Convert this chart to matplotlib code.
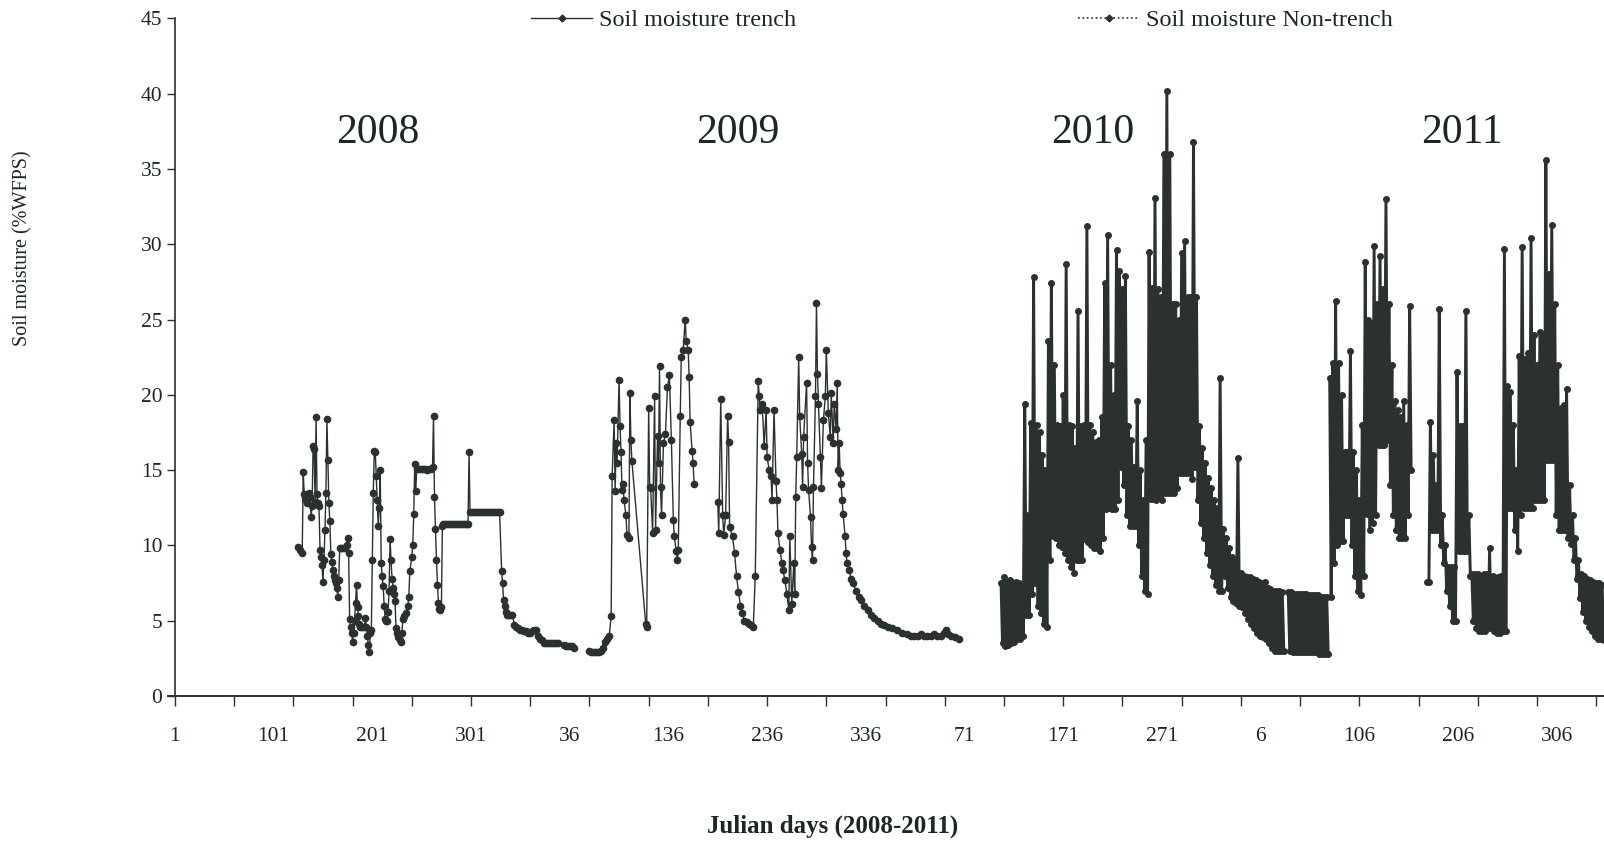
import matplotlib.pyplot as plt
import numpy as np
from matplotlib.lines import Line2D

# Day index on the axis: 0 = 1 Jan 2008, 365 days per year block
days_2008 = [125, 127, 129, 130, 131, 132, 133, 134, 135, 136, 137, 138, 139, 140, 141, 142, 143, 144,
             145, 146, 147, 148, 149, 150, 151, 152, 153, 154, 155, 156, 157, 158, 159, 160, 161, 162,
             163, 164, 165, 166, 167, 168, 170, 172, 174, 175, 176, 177, 178, 179, 180, 181, 182, 183,
             184, 185, 186, 187, 188, 190, 192, 193, 194, 195, 196, 197, 198, 199, 200, 201, 202, 203,
             204, 205, 206, 207, 208, 209, 210, 211, 212, 213, 214, 215, 216, 217, 218, 219, 220, 221,
             222, 223, 224, 225, 226, 228, 229, 230, 231, 232, 234, 236, 237, 238, 240, 241, 242, 243,
             244, 245, 247, 249, 251, 253, 255, 257, 259, 261, 262, 263, 264, 265, 266, 267, 268, 269,
             270, 271, 272, 274, 276, 278, 280, 282, 284, 286, 288, 290, 292, 294, 296, 297, 298, 299,
             301, 303, 305, 307, 309, 311, 313, 315, 317, 319, 321, 323, 325, 327, 329, 331, 332, 333,
             334, 335, 336, 338, 340, 342, 344, 346, 348, 350, 352, 354, 356, 358, 360, 362, 364, 366,
             368, 370, 372, 374, 376, 378, 380, 382, 384, 386, 388, 390, 394, 396, 398, 400, 402, 404]
trench_2008 = [9.9, 9.7, 9.5, 14.9, 13.4, 13.2, 13.0, 12.8, 13.4, 13.5, 13.2, 11.9, 12.6, 16.6, 16.4,
               12.9, 18.5, 13.4, 12.8, 12.6, 9.7, 9.2, 8.7, 7.6, 9.0, 11.0, 13.5, 18.4, 15.7, 12.8,
               11.6, 9.4, 8.9, 8.4, 8.0, 7.7, 7.5, 7.2, 6.6, 7.7, 9.8, 9.8, 9.8, 9.8, 10.0, 10.5, 9.5,
               5.1, 4.6, 4.2, 3.6, 4.2, 5.0, 6.2, 7.4, 5.9, 5.3, 4.8, 4.6, 4.6, 4.6, 5.2, 4.6, 4.0, 3.4,
               2.9, 4.2, 4.4, 9.0, 13.5, 16.3, 16.2, 14.6, 13.0, 11.3, 12.5, 15.0, 8.8, 8.0, 7.3, 6.0,
               5.1, 5.0, 5.0, 5.6, 7.0, 10.4, 9.0, 7.8, 7.2, 6.8, 6.3, 4.5, 4.2, 3.9, 3.7, 3.6, 4.2,
               5.1, 5.3, 5.5, 6.0, 6.6, 8.3, 9.2, 10.0, 12.1, 15.4, 13.6, 15.1, 15.1, 15.1, 15.1, 15.1,
               15.0, 15.1, 15.1, 15.2, 18.6, 13.2, 11.1, 9.0, 7.4, 6.2, 5.8, 5.7, 5.9, 11.3, 11.4,
               11.4, 11.4, 11.4, 11.4, 11.4, 11.4, 11.4, 11.4, 11.4, 11.4, 11.4, 11.4, 11.4, 16.2,
               12.2, 12.2, 12.2, 12.2, 12.2, 12.2, 12.2, 12.2, 12.2, 12.2, 12.2, 12.2, 12.2, 12.2, 12.2,
               12.2, 8.3, 7.5, 6.4, 6.0, 5.6, 5.4, 5.4, 5.4, 5.4, 4.7, 4.6, 4.5, 4.4, 4.4, 4.3, 4.3,
               4.2, 4.2, 4.3, 4.4, 4.4, 4.0, 3.8, 3.7, 3.5, 3.5, 3.5, 3.5, 3.5, 3.5, 3.5, 3.5, np.nan,
               3.4, 3.3, 3.3, 3.3, 3.3, 3.2]

days_2009 = [420, 422, 424, 426, 428, 430, 432, 434, 436, 438, 440, 442, 443, 445, 446, 447, 448, 450,
             451, 452, 453, 454, 455, 457, 458, 460, 461, 462, 463, 477, 478, 480, 481, 482, 484, 486,
             487, 489, 490, 491, 492, 493, 495, 497, 499, 501, 503, 505, 506, 508, 509, 510, 512, 513,
             515, 517, 518, 520, 521, 522, 524, 525, 526, 538, 550, 551, 553, 555, 556, 558, 560, 561,
             562, 565, 567, 569, 571, 573, 575, 577, 580, 582, 584, 586, 588, 591, 592, 593, 595, 597,
             599, 600, 602, 604, 605, 607, 609, 610, 611, 613, 615, 616, 618, 620, 622, 623, 625, 627,
             628, 629, 630, 632, 633, 635, 636, 637, 640, 641, 642, 644, 645, 646, 647, 649, 650, 651,
             652, 654, 655, 657, 659, 660, 662, 664, 665, 667, 668, 670, 671, 672, 673, 674, 675, 676,
             677, 679, 680, 681, 683, 685, 687, 690, 693, 695, 698, 702, 705, 708, 712, 715, 718, 722,
             727, 732, 737, 742, 746, 749, 753, 756, 759, 762, 766, 769, 772, 776, 779, 781, 783, 786,
             790, 794]
trench_2009 = [3.0, 2.9, 2.9, 2.9, 2.9, 2.9, 3.0, 3.2, 3.6, 3.8, 4.0, 5.3, 14.6, 18.3, 13.6, 16.8, 15.5,
               21.0, 17.9, 16.2, 13.7, 14.1, 13.0, 12.0, 10.7, 10.5, 20.1, 17.0, 15.6, 4.8, 4.6, 19.1,
               13.9, 13.8, 10.8, 19.9, 11.0, 17.3, 15.5, 21.9, 13.9, 12.0, 16.8, 17.4, 20.5, 21.3, 17.0,
               11.7, 10.6, 9.6, 9.0, 9.7, 18.6, 22.5, 23.0, 25.0, 23.6, 23.0, 21.2, 18.2, 16.3, 15.5,
               14.1, np.nan, 12.9, 10.8, 19.7, 12.0, 10.7, 12.0, 18.6, 16.9, 11.2, 10.6, 9.5, 8.0, 6.9,
               6.0, 5.5, 5.0, 4.9, 4.8, 4.7, 4.6, 8.0, 20.9, 19.9, 19.0, 19.4, 16.6, 19.0, 15.9, 15.0,
               14.6, 13.0, 19.0, 14.3, 13.0, 10.8, 9.7, 8.8, 8.4, 7.7, 6.8, 5.7, 10.6, 6.1, 8.8, 6.8,
               13.2, 15.9, 22.5, 18.6, 16.1, 13.9, 17.2, 20.8, 15.5, 13.7, 11.9, 9.9, 9.0, 13.9, 19.9,
               26.1, 21.4, 19.4, 15.9, 13.8, 18.3, 19.9, 23.0, 18.8, 17.2, 20.1, 16.8, 19.4, 17.7, 20.8,
               15.0, 16.8, 14.8, 14.1, 13.0, 12.1, 10.6, 9.5, 8.8, 8.4, 7.8, 7.5, 7.0, 6.6, 6.4, 6.0,
               5.7, 5.4, 5.2, 5.0, 4.8, 4.7, 4.6, 4.5, 4.4, 4.2, 4.1, 4.0, 4.0, 4.0, 4.1, 4.0, 4.0, 4.0,
               4.1, 4.0, 4.0, 4.2, 4.4, 4.1, 4.0, 3.9, 3.8]

# 2010-2011 logger readings: daily high / low pairs, one pair every 3 days
step = 3
start_2010 = 837
high_2010 = [7.5, 7.9, 7.6, 7.7, 7.4, 7.6, 7.5, 7.3, 19.4, 12.0,
             18.1, 27.8, 18.0, 17.5, 16.0, 15.0, 23.6, 27.4, 22.0, 18.0,
             17.9, 20.0, 28.7, 18.0, 17.9, 16.5, 25.6, 17.9, 18.0, 31.2,
             18.0, 17.5, 16.9, 17.0, 18.5, 27.4, 30.6, 22.0, 20.0, 29.6,
             28.2, 27.0, 27.9, 17.9, 17.0, 15.2, 19.6, 15.0, 13.0, 17.0,
             29.5, 27.1, 33.1, 27.0, 26.5, 36.0, 40.2, 36.0, 26.0, 26.0,
             25.0, 29.4, 30.2, 26.5, 26.5, 36.8, 26.5, 17.9, 16.5, 15.5,
             14.5, 13.8, 13.0, 12.5, 21.1, 11.1, 10.5, 9.8, 9.2, 8.9,
             15.8, 8.2, 8.0, 7.9, 7.9, 7.8, 7.7, 7.6, 7.5, 7.6,
             7.2, 7.1, 7.0, 7.0, 7.0, 6.9, np.nan, 6.9, 6.9, 6.8,
             6.8, 6.8, 6.8, 6.8, 6.7, 6.7, 6.7, 6.7, 6.6, 6.6, 6.6]
low_2010 = [3.5, 3.3, 3.4, 3.5, 3.6, 3.8, 3.8, 4.0, 5.4, 5.4,
            6.8, 7.5, 6.0, 5.5, 4.8, 4.6, 9.0, 10.6, 10.5, 10.0,
            9.9, 9.5, 9.0, 8.6, 8.2, 9.0, 9.0, 9.0, 10.4, 10.2,
            10.0, 9.8, 9.8, 9.6, 10.5, 12.4, 12.5, 12.4, 12.4, 13.0,
            15.2, 14.0, 12.0, 11.3, 11.3, 11.3, 10.0, 8.0, 7.0, 6.8,
            13.1, 13.1, 13.0, 13.2, 13.0, 13.5, 13.5, 13.5, 13.5, 13.8,
            14.8, 14.8, 14.8, 14.8, 14.4, 15.2, 13.0, 11.5, 10.5, 9.5,
            8.7, 8.0, 7.4, 7.0, 7.0, 8.0, 7.2, 6.6, 6.3, 6.2,
            6.0, 5.9, 5.5, 5.1, 4.8, 4.5, 4.2, 4.0, 3.9, 3.8,
            3.5, 3.2, 3.0, 3.0, 3.0, 3.0, np.nan, 3.0, 2.9, 2.9,
            2.9, 2.9, 2.9, 2.9, 2.9, 2.9, 2.9, 2.8, 2.8, 2.8, 2.8]

start_2011 = 1170
high_2011 = [21.1, 22.1, 26.2, 22.1, 20.0, 16.2, 16.2, 22.9, 16.2, 15.0,
             13.0, 18.0, 28.8, 25.0, 24.8, 29.9, 26.0, 29.2, 27.0, 33.0,
             26.0, 22.0, 19.6, 19.0, 18.5, 19.6, 18.0, 25.9, np.nan, np.nan,
             np.nan, np.nan, np.nan, 7.6, 18.2, 16.0, 14.0, 25.7, 12.0, 10.0,
             8.6, 8.6, 8.6, 21.5, 17.9, 17.9, 25.6, 12.0, 8.1, 8.1,
             8.1, 8.0, 8.1, 8.1, 9.8, 8.0, 7.8, 7.9, 8.0, 29.7,
             20.6, 20.2, 18.0, 15.0, 22.6, 29.8, 22.4, 22.8, 30.4, 24.0,
             22.0, 24.2, 24.0, 35.6, 28.0, 31.3, 26.0, 22.0, 19.1, 19.3,
             20.4, 14.0, 12.0, 10.5, 9.0, 8.1, 8.0, 7.8, 7.7, 7.6,
             7.5, 7.5, 7.4]
low_2011 = [6.6, 8.8, 10.0, 10.3, 10.3, 12.0, 12.0, 10.0, 8.0, 7.0,
            6.7, 8.0, 12.1, 11.0, 11.5, 12.0, 16.7, 16.7, 16.7, 17.0,
            14.0, 12.0, 11.0, 10.5, 10.5, 10.5, 12.0, 15.0, np.nan, np.nan,
            np.nan, np.nan, np.nan, 7.6, 11.0, 11.0, 11.0, 10.0, 8.8, 7.0,
            6.0, 5.0, 5.0, 9.6, 9.6, 9.6, 9.6, 8.0, 5.0, 4.5,
            4.3, 4.3, 4.3, 4.5, 4.5, 4.3, 4.2, 4.2, 4.3, 4.3,
            12.5, 12.5, 11.0, 9.6, 12.0, 12.5, 12.5, 12.5, 12.5, 13.0,
            13.0, 13.0, 13.0, 15.7, 15.7, 15.7, 12.0, 11.0, 11.0, 11.0,
            10.5, 10.1, 9.0, 7.8, 6.5, 5.6, 5.0, 4.6, 4.3, 4.0,
            3.8, 3.8, 3.7]

tick_days = list(range(0, 1401, 100))
tick_labels = ["1", "101", "201", "301", "36", "136", "236", "336",
               "71", "171", "271", "6", "106", "206", "306"]
year_labels = ["2008", "2009", "2010", "2011"]
year_label_days = [206, 570, 930, 1304]

INK = "#2b3030"
TEXT = "#1c2626"

plt.rcParams["font.family"] = ["Liberation Serif", "DejaVu Serif"]


def zigzag(start, highs, lows):
    # each high/low pair becomes two daily points half a step apart
    xs, ys = [], []
    for i, (hi, lo) in enumerate(zip(highs, lows)):
        d = start + i * step
        xs += [d, d + step / 2]
        ys += [hi, lo]
    return xs, ys


fig = plt.figure(figsize=(16.04, 8.43), dpi=100)
ax = fig.add_axes([168 / 1604, 1 - 696 / 843, 1436 / 1604, (696 - 18.4) / 843])

trench_style = dict(ls="-", color=INK, lw=1.0, marker="o", ms=4.5, zorder=3)
ax.plot(days_2008, trench_2008, **trench_style)
ax.plot(days_2009, trench_2009, **trench_style)

# the 2010-2011 readings are packed so tightly the dots merge into solid bands
dense_style = dict(ls="-", color=INK, lw=2.1, marker="o", ms=4.0, zorder=3)
for start, hi, lo in [(start_2010, high_2010, low_2010), (start_2011, high_2011, low_2011)]:
    xs, ys = zigzag(start, hi, lo)
    ax.plot(xs, ys, **dense_style)

ax.set_xlim(-7, -7 + 1436 / 0.987)
ax.set_ylim(0, 45)

for s in ("top", "right"):
    ax.spines[s].set_visible(False)
ax.spines["left"].set_position(("data", 0))
ax.spines["left"].set_color(INK)
ax.spines["bottom"].set_color(INK)
ax.spines["left"].set_linewidth(1.2)
ax.spines["bottom"].set_linewidth(1.4)

ax.set_yticks(range(0, 46, 5))
ax.tick_params(axis="y", direction="out", length=6, width=1, color=INK, pad=3,
               labelsize=15.5, labelcolor=TEXT)

ax.set_xticks(tick_days)
ax.set_xticklabels(tick_labels)
ax.set_xticks(range(0, 1449, 60), minor=True)
ax.xaxis.remove_overlapping_locs = False
ax.tick_params(axis="x", which="major", length=0, pad=22, labelsize=15.5, labelcolor=TEXT)
ax.tick_params(axis="x", which="minor", direction="out", length=7, width=1, color=INK)

for lab, d in zip(year_labels, year_label_days):
    ax.text(d, 37.4, lab, ha="center", va="center", fontsize=30, color=TEXT)

fig.text(22.5 / 1604, 1 - 248 / 843, "Soil moisture (%WFPS)", rotation=90,
         ha="center", va="center", fontsize=14.5, color=TEXT)
fig.text(833 / 1604, 1 - 826 / 843, "Julian days (2008-2011)", ha="center", va="center",
         fontsize=18, fontweight="bold", color=TEXT)

handles = [Line2D([], [], color=INK, lw=1.0, ls="-", marker="D", ms=3.5),
           Line2D([], [], color=INK, lw=1.2, ls=":", marker="D", ms=3.5)]
fig.legend(handles, ["Soil moisture trench", "Soil moisture Non-trench"], loc="center",
           bbox_to_anchor=(0.5998, 0.9757), ncol=2, frameon=False, fontsize=17.5,
           handlelength=2.5, handletextpad=0.29, columnspacing=11.6, labelcolor=TEXT)

fig.savefig("out.png", dpi=100)
